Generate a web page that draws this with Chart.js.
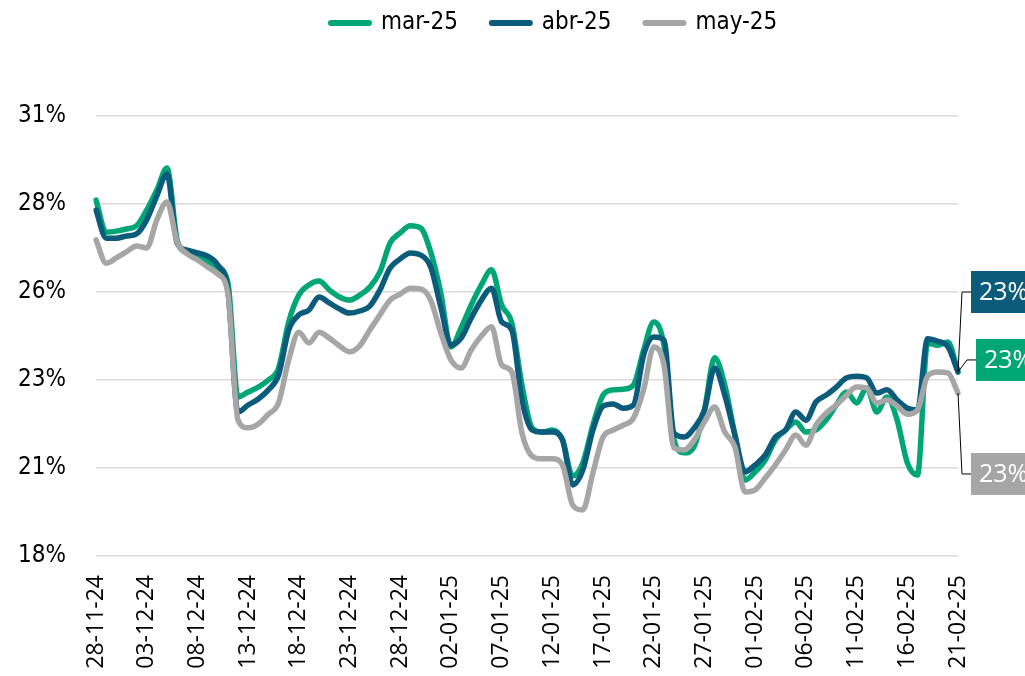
<!DOCTYPE html>
<html>
<head>
<meta charset="utf-8">
<script src="https://cdn.jsdelivr.net/npm/chart.js"></script>
<style>
  html, body { margin: 0; padding: 0; background: #ffffff; }
  #wrap { width: 1025px; height: 676px; position: relative; overflow: hidden; }
</style>
</head>
<body>
<div id="wrap"><canvas id="c" width="1025" height="676"></canvas></div>
<script>
const categories = [
  '28-11-24','29-11-24','30-11-24',
  '01-12-24','02-12-24','03-12-24','04-12-24','05-12-24','06-12-24','07-12-24','08-12-24','09-12-24','10-12-24',
  '11-12-24','12-12-24','13-12-24','14-12-24','15-12-24','16-12-24','17-12-24','18-12-24','19-12-24','20-12-24',
  '21-12-24','22-12-24','23-12-24','24-12-24','25-12-24','26-12-24','27-12-24','28-12-24','29-12-24','30-12-24','31-12-24',
  '01-01-25','02-01-25','03-01-25','04-01-25','05-01-25','06-01-25','07-01-25','08-01-25','09-01-25','10-01-25',
  '11-01-25','12-01-25','13-01-25','14-01-25','15-01-25','16-01-25','17-01-25','18-01-25','19-01-25','20-01-25',
  '21-01-25','22-01-25','23-01-25','24-01-25','25-01-25','26-01-25','27-01-25','28-01-25','29-01-25','30-01-25','31-01-25',
  '01-02-25','02-02-25','03-02-25','04-02-25','05-02-25','06-02-25','07-02-25','08-02-25','09-02-25','10-02-25',
  '11-02-25','12-02-25','13-02-25','14-02-25','15-02-25','16-02-25','17-02-25','18-02-25','19-02-25','20-02-25','21-02-25'
];

const tickLabels = ['28-11-24','03-12-24','08-12-24','13-12-24','18-12-24','23-12-24','28-12-24','02-01-25','07-01-25',
  '12-01-25','17-01-25','22-01-25','27-01-25','01-02-25','06-02-25','11-02-25','16-02-25','21-02-25'];

const seriesNames = ['mar-25', 'abr-25', 'may-25'];

const mar25 = [
  28.11, 27.20, 27.23, 27.29, 27.38, 27.83, 28.40, 29.02, 26.98, 26.61,
  26.52, 26.38, 26.18, 25.78, 22.52, 22.66, 22.80, 23.00, 23.34, 24.65,
  25.41, 25.70, 25.81, 25.56, 25.36, 25.27, 25.41, 25.64, 26.07, 26.89,
  27.18, 27.38, 27.32, 26.64, 25.47, 23.94, 24.48, 25.13, 25.70, 26.13,
  25.13, 24.62, 22.86, 21.64, 21.52, 21.58, 21.30, 20.27, 20.64, 21.72,
  22.57, 22.72, 22.74, 22.86, 23.85, 24.65, 23.99, 21.30, 20.93, 21.13,
  22.15, 23.63, 22.86, 21.44, 20.16, 20.39, 20.73, 21.30, 21.58, 21.81,
  21.52, 21.58, 21.86, 22.29, 22.66, 22.35, 22.77, 22.09, 22.52, 21.86,
  20.65, 20.30, 24.05, 23.99, 24.08, 23.23
];

const abr25 = [
  27.83, 27.03, 27.03, 27.09, 27.15, 27.55, 28.23, 28.85, 26.89, 26.69,
  26.61, 26.52, 26.27, 25.56, 22.09, 22.29, 22.46, 22.72, 23.14, 24.42,
  24.85, 24.99, 25.36, 25.19, 25.02, 24.90, 24.96, 25.10, 25.56, 26.18,
  26.44, 26.61, 26.55, 26.21, 25.07, 23.99, 24.19, 24.76, 25.27, 25.61,
  24.65, 24.42, 22.43, 21.58, 21.52, 21.52, 21.30, 20.02, 20.44, 21.58,
  22.26, 22.32, 22.20, 22.29, 23.71, 24.22, 24.14, 21.49, 21.38, 21.64,
  22.15, 23.34, 22.57, 21.44, 20.39, 20.59, 20.87, 21.38, 21.58, 22.09,
  21.86, 22.38, 22.57, 22.80, 23.06, 23.11, 23.06, 22.63, 22.72, 22.43,
  22.20, 22.15, 24.17, 24.10, 23.95, 23.23
];

const may25 = [
  26.98, 26.32, 26.47, 26.64, 26.81, 26.75, 27.55, 28.06, 26.92, 26.58,
  26.41, 26.21, 26.01, 25.47, 21.86, 21.64, 21.75, 22.03, 22.35, 23.57,
  24.36, 24.05, 24.36, 24.19, 23.97, 23.80, 23.97, 24.42, 24.85, 25.27,
  25.44, 25.61, 25.59, 25.27, 24.34, 23.57, 23.34, 23.85, 24.25, 24.51,
  23.43, 23.23, 21.50, 20.84, 20.76, 20.76, 20.59, 19.45, 19.31, 20.36,
  21.38, 21.58, 21.72, 21.92, 22.72, 23.94, 23.43, 21.07, 21.01, 21.30,
  21.81, 22.23, 21.52, 21.10, 19.82, 19.88, 20.22, 20.59, 21.01, 21.44,
  21.15, 21.72, 22.06, 22.29, 22.57, 22.80, 22.77, 22.35, 22.43, 22.26,
  22.03, 22.15, 23.11, 23.23, 23.20, 22.63
];

const yTicks = [18, 20.5, 23, 25.5, 28, 30.5];

const colors = ['#00A676', '#0B5C7B', '#A6A6A6'];

// end-label annotation placement (value on y scale where the box is centred, x offset from plot right)
const endLabelSpec = [
  { ds: 1, at: 25.5, dx: 13 },
  { ds: 0, at: 23.57, dx: 18 },
  { ds: 2, at: 20.33, dx: 13 }
];

const NARROW = '"Liberation Sans Narrow", "DejaVu Sans Condensed", sans-serif';
const LEG_FONT = 24;
const LEG_PAD = 34;

const legendPlacer = {
  id: 'legendPlacer',
  afterLayout(chart) {
    const lg = chart.legend;
    if (!lg) return;
    const h = lg.bottom - lg.top;
    lg.top = 23 - LEG_PAD - LEG_FONT / 2;
    lg.bottom = lg.top + h;
    lg.left = 331 - LEG_PAD;
    lg.right = 1025;
    lg.width = lg.right - lg.left;
  }
};

const endLabels = {
  id: 'endLabels',
  afterDatasetsDraw(chart) {
    const { ctx, chartArea } = chart;
    const yScale = chart.scales.y;
    endLabelSpec.forEach(s => {
      const meta = chart.getDatasetMeta(s.ds);
      const pt = meta.data[meta.data.length - 1];
      const vals = chart.data.datasets[s.ds].data;
      const cy = yScale.getPixelForValue(s.at);
      const bx = chartArea.right + s.dx;
      ctx.save();
      ctx.strokeStyle = '#000000';
      ctx.lineWidth = 1;
      ctx.beginPath();
      ctx.moveTo(pt.x, pt.y);
      ctx.lineTo(bx - 9, cy);
      ctx.lineTo(bx, cy);
      ctx.stroke();
      ctx.fillStyle = colors[s.ds];
      ctx.fillRect(bx, cy - 21, 90, 42);
      ctx.fillStyle = '#ffffff';
      ctx.font = '25px "Open Sans", sans-serif';
      ctx.textBaseline = 'middle';
      ctx.textAlign = 'left';
      ctx.fillText(Math.round(vals[vals.length - 1]) + '%', bx + 8, cy + 1);
      ctx.restore();
    });
  }
};

const allSeries = [mar25, abr25, may25];
const datasets = allSeries.map((d, i) => ({
  label: seriesNames[i],
  data: d,
  borderColor: colors[i],
  backgroundColor: colors[i],
  borderWidth: 5.5,
  pointRadius: 0,
  pointHoverRadius: 0,
  cubicInterpolationMode: 'monotone',
  borderCapStyle: 'round',
  borderJoinStyle: 'round',
  fill: false,
  order: 3 - i
}));

new Chart(document.getElementById('c'), {
  type: 'line',
  data: { labels: categories, datasets },
  plugins: [legendPlacer, endLabels],
  options: {
    responsive: false,
    animation: false,
    events: [],
    layout: { padding: { top: 48, right: 67, left: 0, bottom: 0 } },
    plugins: {
      tooltip: { enabled: false },
      legend: {
        display: true,
        position: 'top',
        align: 'start',
        labels: {
          usePointStyle: true,
          pointStyle: 'line',
          pointStyleWidth: 38,
          padding: LEG_PAD,
          color: '#000000',
          font: { family: NARROW, size: LEG_FONT },
          sort: (a, b) => a.datasetIndex - b.datasetIndex,
          generateLabels(chart) {
            const items = Chart.defaults.plugins.legend.labels.generateLabels(chart);
            items.forEach(it => {
              it.lineWidth = 6;
              it.lineCap = 'round';
              it.strokeStyle = colors[it.datasetIndex];
              it.fillStyle = colors[it.datasetIndex];
            });
            return items;
          }
        }
      }
    },
    scales: {
      x: {
        type: 'category',
        offset: false,
        grid: { display: false, drawTicks: false },
        border: { display: false },
        ticks: {
          autoSkip: false,
          maxRotation: 90,
          minRotation: 90,
          padding: 19,
          color: '#000000',
          font: { family: '"Open Sans", sans-serif', size: 23 },
          callback(value, index) {
            const lab = categories[index];
            return tickLabels.includes(lab) ? lab : '';
          }
        },
        afterFit(scale) { scale.height = 120; }
      },
      y: {
        min: yTicks[0],
        max: yTicks[yTicks.length - 1],
        afterBuildTicks(scale) { scale.ticks = yTicks.map(v => ({ value: v })); },
        grid: { color: '#d9d9d9', lineWidth: 1.5, drawTicks: false },
        border: { display: false },
        ticks: {
          padding: 30,
          color: '#000000',
          font: { family: NARROW, size: 24 },
          callback: v => Math.round(v) + '%'
        },
        afterFit(scale) { scale.width = 96; }
      }
    }
  }
});
</script>
</body>
</html>
